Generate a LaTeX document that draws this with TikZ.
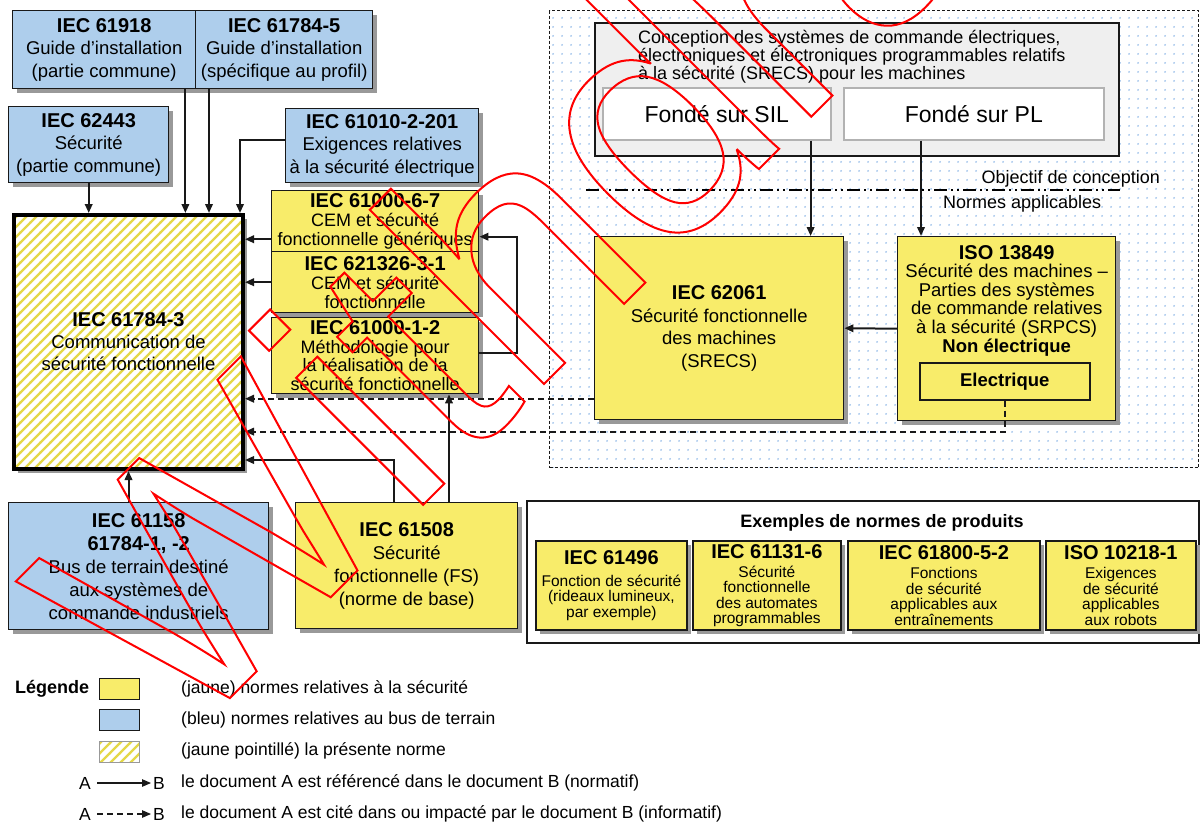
\documentclass[tikz,border=0pt]{standalone}
\usepackage{fontspec}
\setmainfont{Liberation Sans}
\usepackage{xcolor}
\usepackage{tikz}
\usetikzlibrary{arrows.meta, positioning, shadows, patterns}

\definecolor{jaune}{RGB}{248,236,106}
\definecolor{bleu}{RGB}{174,206,236}
\definecolor{hachure}{RGB}{228,216,72}
\definecolor{pointbleu}{RGB}{150,188,232}
\definecolor{grisclair}{RGB}{239,239,239}

\pgfdeclarepatternformonly{hachures}{\pgfqpoint{-1pt}{-1pt}}{\pgfqpoint{11pt}{11pt}}{\pgfqpoint{10pt}{10pt}}{%
  \pgfsetlinewidth{2.4pt}%
  \pgfpathmoveto{\pgfqpoint{-1pt}{-1pt}}\pgfpathlineto{\pgfqpoint{11pt}{11pt}}%
  \pgfusepath{stroke}}
\pgfdeclarepatternformonly{pointsbleus}{\pgfqpoint{0pt}{0pt}}{\pgfqpoint{9pt}{9pt}}{\pgfqpoint{9pt}{9pt}}{%
  \pgfpathcircle{\pgfqpoint{4.5pt}{4.5pt}}{1.1pt}\pgfusepath{fill}}

\newcommand{\titre}{\bfseries\fontsize{20}{22}\selectfont}

\tikzset{
>={Triangle[length=9pt,width=7.5pt]}, % pointes pleines
norme/.style={draw=black!90, line width=1.4pt, align=center, inner sep=0pt, anchor=north west,
  font=\fontsize{18.5}{22.5}\selectfont,
  drop shadow={shadow xshift=4pt, shadow yshift=-4pt, fill=black!40, opacity=1}}, % boites des normes
surete/.style={norme, fill=jaune}, % normes relatives a la securite
bus/.style={norme, fill=bleu}, % normes relatives au bus de terrain
produit/.style={surete, line width=1.8pt, minimum height=89, font=\fontsize{15.5}{15.5}\selectfont},
cadre/.style={draw=black!90, line width=1.6pt, inner sep=0pt, anchor=north west},
pastille/.style={draw=black!90, line width=1.4pt, minimum width=40, minimum height=21, inner sep=0pt, anchor=north west},
legtxt/.style={anchor=west, inner sep=0pt, font=\fontsize{17.5}{18}\selectfont},
lien/.style={->, line width=2pt, black!90}, % normatif
cite/.style={lien, dash pattern=on 6pt off 4pt}, % informatif
}

\begin{document}
\begin{tikzpicture}[x=1pt, y=-1pt]
\useasboundingbox (0,0) rectangle (1200,823);

% objectif de conception
\node[cadre, dash pattern=on 3pt off 2pt, line width=1.2pt, pattern=pointsbleus, pattern color=pointbleu,
  minimum width=649, minimum height=457] (zone) at (549,10) {};
\node[cadre, fill=grisclair, minimum width=524, minimum height=133] (concept) at (594,22) {};
\node[anchor=north west, align=left, inner sep=0pt, font=\fontsize{18}{18}\selectfont] (concepttxt) at (638,30)
  {Conception des systèmes de commande électriques,\\électroniques et électroniques programmables relatifs\\à la sécurité (SRECS) pour les machines};
\node[cadre, draw=black!30, fill=white, minimum width=228, minimum height=52, font=\fontsize{23}{26}\selectfont] (sil) at (602,87) {Fondé sur SIL};
\node[cadre, draw=black!30, fill=white, minimum width=260, minimum height=52, font=\fontsize{23}{26}\selectfont] (pl) at (843,87) {Fondé sur PL};
\draw[line width=1.3pt, dash pattern=on 13pt off 4pt on 2pt off 4pt on 2pt off 4pt] (586,190) -- (1120,190);
\node[anchor=east, inner sep=0pt, font=\fontsize{18}{18}\selectfont] (objectif) at (1160,179) {Objectif de conception};
\node[anchor=west, inner sep=0pt, font=\fontsize{18}{18}\selectfont] (applic) at (943,204) {Normes applicables};

\node[surete, minimum width=249, minimum height=183] (n62061) at (594,236)
  {{\titre IEC 62061}\\Sécurité fonctionnelle\\des machines\\(SRECS)};
\node[surete, minimum width=218, minimum height=184] (iso) at (897,236) {};
\node[anchor=north, align=center, inner sep=0pt, font=\fontsize{18.5}{18.6}\selectfont] (isotxt) at ([yshift=-9]iso.north)
  {{\titre ISO 13849}\\Sécurité des machines –\\Parties des systèmes\\de commande relatives\\à la sécurité (SRPCS)\\{\bfseries Non électrique}};
\node[cadre, fill=jaune, minimum width=170, minimum height=37, font=\bfseries\fontsize{18.5}{20}\selectfont] (elec) at (919,362) {Electrique};

% normes du bus de terrain
\node[bus, minimum width=183, minimum height=78] (n61918) at (12,10) {{\titre IEC 61918}\\Guide d'installation\\(partie commune)};
\node[bus, minimum width=177, minimum height=78] (n617845) at (195,10) {{\titre IEC 61784-5}\\Guide d'installation\\(spécifique au profil)};
\node[bus, minimum width=160, minimum height=76] (n62443) at (8,106) {{\titre IEC 62443}\\Sécurité\\(partie commune)};
\node[bus, minimum width=193, minimum height=74] (n61010) at (285,108) {{\titre IEC 61010-2-201}\\Exigences relatives\\à la sécurité électrique};
\node[norme, draw=black, line width=4pt, preaction={fill=white}, pattern=hachures, pattern color=hachure,
  minimum width=229, minimum height=254, font=\fontsize{18.5}{22}\selectfont] (n617843) at (12,213)
  {{\titre IEC 61784-3}\\Communication de\\sécurité fonctionnelle};
\node[bus, minimum width=260, minimum height=127, font=\fontsize{18.5}{23}\selectfont] (n61158) at (8,502)
  {{\titre IEC 61158}\\{\titre 61784-1, -2}\\Bus de terrain destiné\\aux systèmes de\\commande industriels};

% normes de securite
\node[surete, minimum width=207, minimum height=61, font=\fontsize{18}{19}\selectfont] (n610006) at (271,190)
  {{\titre IEC 61000-6-7}\\CEM et sécurité\\fonctionnelle génériques};
\node[surete, minimum width=207, minimum height=61, font=\fontsize{18}{19}\selectfont] (n621326) at (271,251)
  {{\titre IEC 621326-3-1}\\CEM et sécurité\\fonctionnelle};
\node[surete, minimum width=207, minimum height=76, font=\fontsize{18}{18.5}\selectfont] (n610001) at (271,317)
  {{\titre IEC 61000-1-2}\\Méthodologie pour\\la réalisation de la\\sécurité fonctionnelle};
\node[surete, minimum width=222, minimum height=126, font=\fontsize{18.5}{23}\selectfont] (n61508) at (295,502)
  {{\titre IEC 61508}\\Sécurité\\fonctionnelle (FS)\\(norme de base)};

% exemples de normes de produits
\node[cadre, line width=2pt, fill=white, minimum width=672, minimum height=142] (exemples) at (526,500) {};
\node[inner sep=0pt, font=\bfseries\fontsize{18}{20}\selectfont] (titreex) at (882,523) {Exemples de normes de produits};
\node[produit, minimum width=151] (p61496) at (535,540) {{\titre IEC 61496}\\[6pt]Fonction de sécurité\\(rideaux lumineux,\\par exemple)};
\node[produit, minimum width=148] (p61131) at (692,540) {{\titre IEC 61131-6}\\[3.5pt]Sécurité\\fonctionnelle\\des automates\\programmables};
\node[produit, minimum width=192] (p61800) at (847,540) {{\titre IEC 61800-5-2}\\[3.5pt]Fonctions\\de sécurité\\applicables aux\\entraînements};
\node[produit, minimum width=150] (p10218) at (1045,540) {{\titre ISO 10218-1}\\[3.5pt]Exigences\\de sécurité\\applicables\\aux robots};

% liens
\coordinate (d61918) at ([xshift=-11]n61918.south east);
\coordinate (d617845) at ([xshift=14]n617845.south west);
\coordinate (d61010) at ([yshift=6]n61010.west);
\coordinate (a61010) at ([xshift=-5]n617843.north east);
\coordinate (d610006) at ([yshift=-18]n610006.west);
\coordinate (d610001) at ([yshift=3]n610001.east);
\coordinate (a610006) at ([yshift=-15.5]n610006.east);
\coordinate (d62061) at ([yshift=-70.5]n62061.west);
\coordinate (coude) at ([yshift=-31]elec.south);
\coordinate (dsil) at ([xshift=-21]sil.south east);
\coordinate (dpl) at ([xshift=78]pl.south west);
\coordinate (d61508) at ([xshift=99]n61508.north west);
\coordinate (a61508) at ([yshift=11]n617843.south east);
\coordinate (e61508) at ([xshift=154]n61508.north west);

\draw[lien] (n62443.south) -- (n62443.south |- n617843.north);
\draw[lien] (d61918) -- (d61918 |- n617843.north);
\draw[lien] (d617845) -- (d617845 |- n617843.north);
\draw[lien] (d61010) -| (a61010);
\draw[lien] (d610006) -- (d610006 -| n617843.east);
\draw[lien] (n621326.west) -- (n621326.west -| n617843.east);
\draw[lien] (d610001) -- ++(38,0) |- (a610006);
\draw[cite] (d62061) -- (d62061 -| n617843.east);
\draw[cite] (elec.south) -- (coude) -- (coude -| n617843.east);
\draw[lien] (iso.west) -- (n62061.east);
\draw[lien] (dsil) -- (dsil |- n62061.north);
\draw[lien] (dpl) -- (dpl |- iso.north);
\draw[lien] (n617843.south |- n61158.north) -- (n617843.south);
\draw[lien] (d61508) |- (a61508);
\draw[lien] (e61508) -- (e61508 |- n610001.south);

% legende
\node[inner sep=0pt, anchor=west, font=\bfseries\fontsize{18}{20}\selectfont] (legende) at (15,689) {Légende};
\node[pastille, fill=jaune] (lj) at (99,678) {};
\node[pastille, fill=bleu] (lb) at (99,709) {};
\node[pastille, draw=black!40, preaction={fill=white}, pattern=hachures, pattern color=hachure] (lh) at (99,741) {};
\node[legtxt] (tj) at (181,689) {(jaune) normes relatives à la sécurité};
\node[legtxt] (tb) at (181,720) {(bleu) normes relatives au bus de terrain};
\node[legtxt] (th) at (181,751) {(jaune pointillé) la présente norme};
\node[legtxt] (la) at (79,783) {A};
\node[legtxt] (lbb) at (153,783) {B};
\node[legtxt] (tn) at (181,783) {le document A est référencé dans le document B (normatif)};
\node[legtxt] (la2) at (79,814) {A};
\node[legtxt] (lbb2) at (153,814) {B};
\node[legtxt] (ti) at (181,814) {le document A est cité dans ou impacté par le document B (informatif)};
\draw[lien, line width=1.2pt] ([xshift=6]la.east) -- ([xshift=-2]lbb.west);
\draw[cite, line width=1.2pt] ([xshift=6]la2.east) -- ([xshift=-2]lbb2.west);

% filigrane
\begin{scope}
\clip (0,0) rectangle (1200,823);
\node[rotate=45, anchor=base west, inner sep=0pt, text=red, font=\fontsize{340}{340}\selectfont] (retrait) at (180,748)
  {\special{pdf:literal direct 1 Tr 2 w}Withdrawn\special{pdf:literal direct 0 Tr}};
\end{scope}
\end{tikzpicture}
\end{document}
